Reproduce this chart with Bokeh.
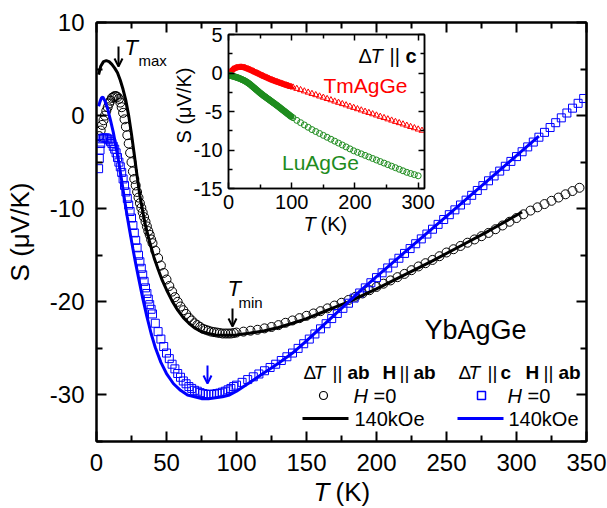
import math
from bokeh.plotting import figure
from bokeh.models import Range1d, LinearAxis, FixedTicker, Label, Arrow, OpenHead, CustomJSTickFormatter
from bokeh.layouts import column
from bokeh.embed import file_html
from bokeh.resources import INLINE

FONT = "Liberation Sans"

# ---------------- data: main panel (YbAgGe) ----------------
# dT || ab, H || ab, H = 0 (open circles)
T_ab0 = list(range(2, 41)) + list(range(42, 101, 2)) + list(range(105, 346, 5))
S_ab0 = [-2.2, -1.6, -1.0, -0.5, 0.0, 0.5, 0.9, 1.3, 1.6, 1.9, 2.0, 2.1, 2.1, 2.0, 1.8, 1.4, 0.9, 0.3, -0.4, -1.2,
         -2.1, -3.0, -4.0, -5.0, -6.0, -6.8, -7.5, -8.2, -8.8, -9.4, -9.9, -10.4, -10.9, -11.4, -11.9, -12.4, -12.8, -13.3, -13.7,
         -14.5, -15.3, -16.1, -16.9, -17.6, -18.3, -18.9, -19.5, -20.0, -20.5, -20.9, -21.3, -21.7, -22.0, -22.3,
         -22.5, -22.7, -22.9, -23.0, -23.1, -23.2, -23.25, -23.3, -23.35, -23.4, -23.4, -23.4, -23.4, -23.35, -23.3,
         -23.2, -23.1, -23.0, -22.85, -22.7, -22.5, -22.25, -22.0, -21.75, -21.5, -21.25, -21.0, -20.7, -20.4, -20.1,
         -19.8, -19.45, -19.1, -18.75, -18.4, -18.05, -17.7, -17.35, -17.0, -16.6, -16.2, -15.85, -15.5, -15.1, -14.7,
         -14.35, -14.0, -13.65, -13.3, -12.95, -12.6, -12.2, -11.8, -11.4, -11.0, -10.6, -10.2, -9.85, -9.5, -9.15,
         -8.8, -8.45, -8.1, -7.75]
# dT || ab, H || ab, 140 kOe (black line)
T_ab140 = [1.5, 3, 5, 7, 9, 11, 13, 15, 17, 19, 21, 23, 25, 27, 29, 31, 33, 35, 38, 41, 44, 47, 50, 54, 58, 62, 66,
           70, 75, 80, 85, 90, 95, 100, 110, 120, 130, 140, 150, 160, 170, 180, 190, 200, 220, 240, 260, 280, 300, 304]
S_ab140 = [4.4, 5.3, 5.8, 5.9, 5.8, 5.5, 5.1, 4.6, 3.8, 2.8, 1.6, 0.0, -2.0, -4.2, -6.5, -8.6, -10.3, -11.8, -13.6,
           -15.2, -16.5, -17.7, -18.7, -19.9, -20.9, -21.7, -22.3, -22.8, -23.2, -23.4, -23.55, -23.6, -23.6, -23.55,
           -23.35, -23.1, -22.75, -22.3, -21.8, -21.2, -20.6, -20.0, -19.3, -18.6, -17.1, -15.6, -14.0, -12.4, -10.7, -10.35]
# dT || c, H || ab, H = 0 (open squares)
T_c0 = [1.5, 2, 2.5] + list(range(3, 41)) + list(range(42, 101, 2)) + list(range(104, 349, 4))
S_c0 = [-5.7, -4.6, -3.7, -3.0, -2.5, -2.4, -2.4, -2.4, -2.5, -2.6, -2.8, -3.0, -3.3, -3.6, -4.0, -4.5, -5.0, -5.5,
        -6.1, -6.8, -7.5, -8.2, -8.9, -9.6, -10.3, -11.0, -11.8, -12.6, -13.4, -14.2, -15.0, -15.7, -16.4, -17.1,
        -17.8, -18.5, -19.1, -19.7, -20.3, -20.8, -21.3,
        -22.3, -23.2, -24.0, -24.8, -25.5, -26.1, -26.7, -27.2, -27.7, -28.1, -28.5, -28.8, -29.1, -29.3, -29.5,
        -29.6, -29.75, -29.85, -29.9, -29.95, -29.95, -29.9, -29.85, -29.8, -29.7, -29.6, -29.45, -29.3, -29.1, -28.95,
        -28.65, -28.35, -28.05, -27.75, -27.4, -27.05, -26.7, -26.3, -25.9, -25.5, -25.0, -24.5, -24.0, -23.45,
        -22.9, -22.35, -21.8, -21.25, -20.7, -20.15, -19.6, -19.05, -18.5, -17.95, -17.4, -16.88, -16.36, -15.84,
        -15.32, -14.8, -14.28, -13.76, -13.24, -12.72, -12.2, -11.68, -11.16, -10.64, -10.12, -9.6, -9.08, -8.56,
        -8.04, -7.52, -7.0, -6.48, -5.96, -5.44, -4.92, -4.4, -3.88, -3.36, -2.84, -2.32, -1.8, -1.28, -0.76,
        -0.24, 0.28, 0.8, 1.32, 1.84]
# dT || c, H || ab, 140 kOe (blue line)
T_c140 = [1.5, 2.5, 3.5, 4.5, 6, 8, 10, 12, 14, 16, 18, 20, 22, 24, 26, 28, 30, 33, 36, 39, 42, 46, 50, 55, 60, 65,
          70, 75, 80, 85, 90, 95, 100, 110, 120, 130, 140, 150, 160, 170, 180, 190, 200, 220, 240, 260, 280, 300, 316]
S_c140 = [1.0, 1.5, 1.9, 2.0, 1.6, 0.7, -0.5, -1.8, -3.4, -5.1, -7.0, -9.0, -10.9, -12.6, -14.3, -15.9, -17.4,
          -19.6, -21.6, -23.4, -24.9, -26.5, -27.7, -28.8, -29.5, -30.0, -30.2, -30.4, -30.4, -30.3, -30.2, -30.0,
          -29.6, -28.6, -27.6, -26.6, -25.5, -24.2, -22.8, -21.4, -20.0, -18.6, -17.3, -14.7, -12.1, -9.5, -6.9, -4.3, -2.2]

# ---------------- data: inset (dT || c) ----------------
T_tm_dense = list(range(1, 100, 2))
S_tm_dense = [0.05, 0.2, 0.35, 0.48, 0.57, 0.63, 0.68, 0.71, 0.73, 0.74, 0.74, 0.72, 0.69, 0.64, 0.58, 0.52, 0.45,
              0.38, 0.31, 0.23, 0.15, 0.07, 0.0, -0.08, -0.16, -0.24, -0.32, -0.4, -0.48, -0.55, -0.62, -0.7, -0.77,
              -0.84, -0.91, -0.98, -1.04, -1.1, -1.16, -1.22, -1.28, -1.34, -1.4, -1.46, -1.52, -1.57, -1.63, -1.68,
              -1.74, -1.79]
T_tm = list(range(102, 307, 6))
S_tm = [-1.86, -2.03, -2.19, -2.36, -2.52, -2.69, -2.85, -3.02, -3.18, -3.35, -3.51, -3.68, -3.84, -4.01, -4.17,
        -4.34, -4.5, -4.67, -4.83, -5.0, -5.16, -5.33, -5.49, -5.66, -5.82, -5.99, -6.15, -6.32, -6.48, -6.65,
        -6.81, -6.98, -7.14, -7.31, -7.47]
T_lu_dense = list(range(1, 100, 2))
S_lu_dense = [-0.3, -0.33, -0.37, -0.42, -0.47, -0.52, -0.57, -0.63, -0.69, -0.76, -0.83, -0.91, -0.99, -1.08,
              -1.18, -1.29, -1.41, -1.54, -1.68, -1.82, -1.96, -2.1, -2.24, -2.38, -2.52, -2.65, -2.78, -2.91,
              -3.03, -3.15, -3.27, -3.39, -3.51, -3.63, -3.75, -3.87, -3.99, -4.11, -4.23, -4.36, -4.49, -4.62,
              -4.75, -4.88, -5.0, -5.13, -5.26, -5.39, -5.52, -5.65]
T_lu = list(range(102, 301, 6))
S_lu = [-5.8, -6.15, -6.45, -6.75, -7.05, -7.35, -7.6, -7.85, -8.1, -8.35, -8.6, -8.85, -9.1, -9.35, -9.6, -9.85,
        -10.1, -10.3, -10.5, -10.7, -10.9, -11.1, -11.3, -11.5, -11.7, -11.9, -12.1, -12.3, -12.5, -12.7, -12.9,
        -13.05, -13.2, -13.35]

# ticks
x_ticks = [0, 50, 100, 150, 200, 250, 300, 350]
x_minor = [25, 75, 125, 175, 225, 275, 325]
y_ticks = [-30, -20, -10, 0, 10]
y_minor = [-35, -25, -15, -5, 5]
ix_ticks = [0, 100, 200, 300]
ix_minor = [50, 150, 250]
iy_ticks = [-15, -10, -5, 0, 5]
iy_minor = [-12.5, -7.5, -2.5, 2.5]

BLUE = "#0000FF"
RED = "#FF0000"
GREEN = "#1E8C1E"

# ---------------- layout (pixels) ----------------
W, H = 607, 508
FL, FR, FT, FB = 96, 586, 22, 441          # main frame
IL, IR, IT, IB = 228, 424, 34, 188         # inset frame
BL, BR = FL, W - FR                        # shared left/right borders (column aligns them)

HYPHEN = CustomJSTickFormatter(code="return tick.toString();")


def style_axis(ax, ticks, minor, size, tin, tmin, lw, standoff, labels=True):
    ax.ticker = FixedTicker(ticks=ticks, minor_ticks=minor)
    ax.major_tick_in = tin
    ax.major_tick_out = 0
    ax.minor_tick_in = tmin
    ax.minor_tick_out = 0
    ax.axis_line_width = lw
    ax.major_tick_line_width = lw
    ax.minor_tick_line_width = lw
    ax.axis_line_color = "black"
    ax.major_tick_line_color = "black"
    ax.minor_tick_line_color = "black"
    ax.major_label_text_font = FONT
    ax.formatter = HYPHEN
    if labels:
        ax.major_label_text_color = "black"
        ax.major_label_text_font_size = f"{size}px"
        ax.major_label_standoff = standoff
    else:
        ax.major_label_text_color = None
        ax.major_label_text_font_size = "1px"
        ax.major_label_standoff = 0


# ---------------- main figure ----------------
p = figure(width=W, height=H, x_range=Range1d(0, 350), y_range=Range1d(-35, 10),
           output_backend="svg", toolbar_location=None,
           min_border_left=BL, min_border_right=BR, min_border_top=FT, min_border_bottom=H - FB)
p.xgrid.visible = False
p.ygrid.visible = False
p.outline_line_color = "black"
p.outline_line_width = 2
p.background_fill_color = "white"
p.border_fill_color = "white"

style_axis(p.xaxis[0], x_ticks, x_minor, 24, 10, 6, 2, 12)
style_axis(p.yaxis[0], y_ticks, y_minor, 24, 10, 6, 2, 12)
p.yaxis[0].axis_label = "S (μV/K)"
p.yaxis[0].axis_label_text_font = FONT
p.yaxis[0].axis_label_text_font_size = "26px"
p.yaxis[0].axis_label_text_font_style = "normal"
p.yaxis[0].axis_label_text_color = "black"
p.yaxis[0].axis_label_standoff = 12
ra = LinearAxis()
style_axis(ra, y_ticks, y_minor, 0, 10, 6, 2, 0, labels=False)
p.add_layout(ra, "right")
ta = LinearAxis()
style_axis(ta, x_ticks, x_minor, 0, 10, 6, 2, 0, labels=False)
p.add_layout(ta, "above")

p.scatter(T_ab0, S_ab0, marker="circle", size=9, fill_color=None, line_color="black", line_width=1)
p.scatter(T_c0, S_c0, marker="square", size=8, fill_color=None, line_color=BLUE, line_width=1)
p.line(T_ab140, S_ab140, line_color="black", line_width=3)
p.line(T_c140, S_c140, line_color=BLUE, line_width=3)

# ---------------- inset figure (layer shifted right, same side borders) ----------------
q = figure(width=BL + (IR - IL) + BR, height=H, x_range=Range1d(0, 310), y_range=Range1d(-15, 5),
           output_backend="svg", toolbar_location=None,
           min_border_left=BL, min_border_right=BR, min_border_top=IT, min_border_bottom=H - IB)
q.xgrid.visible = False
q.ygrid.visible = False
q.outline_line_color = "black"
q.outline_line_width = 1.5
q.background_fill_color = "white"
q.border_fill_color = None
q.margin = (-H, 0, 0, IL - BL)

style_axis(q.xaxis[0], ix_ticks, ix_minor, 20, 6, 4, 1.5, 6)
style_axis(q.yaxis[0], iy_ticks, iy_minor, 20, 6, 4, 1.5, 6)
qra = LinearAxis()
style_axis(qra, iy_ticks, iy_minor, 0, 6, 4, 1.5, 0, labels=False)
q.add_layout(qra, "right")
qta = LinearAxis()
style_axis(qta, ix_ticks, ix_minor, 0, 6, 4, 1.5, 0, labels=False)
q.add_layout(qta, "above")

q.scatter(T_tm_dense, S_tm_dense, marker="triangle", size=6, fill_color=RED, line_color=RED, line_width=1)
q.scatter(T_tm, S_tm, marker="triangle", size=6, fill_color=None, line_color=RED, line_width=1)
q.scatter(T_lu_dense, S_lu_dense, marker="circle", size=6, fill_color=GREEN, line_color=GREEN, line_width=1)
q.scatter(T_lu, S_lu, marker="circle", size=6, fill_color=None, line_color=GREEN, line_width=1)

# ---------------- annotation layer (pixel coordinates over the main frame columns) ----------------
o = figure(width=W, height=H, x_range=Range1d(BL, W - BR), y_range=Range1d(H, 0), title=None,
           output_backend="svg", toolbar_location=None, x_axis_location=None, y_axis_location=None,
           min_border_left=BL, min_border_right=BR, min_border_top=0, min_border_bottom=0)
o.xgrid.visible = False
o.ygrid.visible = False
o.outline_line_color = None
o.background_fill_color = None
o.border_fill_color = None
o.margin = (-H, 0, 0, 0)


def lab(x, y, text, size, style="normal", color="black", align="left", angle=0.0):
    o.add_layout(Label(x=x, y=y, text=text, text_font=FONT, text_font_size=f"{size}px",
                       text_font_style=style, text_color=color, text_align=align,
                       text_baseline="middle", angle=angle))


def arrow(x, y0, y1, color):
    o.add_layout(Arrow(end=OpenHead(size=8, line_width=2, line_color=color), x_start=x, y_start=y0,
                       x_end=x, y_end=y1, line_width=2, line_color=color))


# axis titles
lab(313, 491, "T", 26, style="italic")
lab(335, 491, "(K)", 26)
lab(183, 105, "S (μV/K)", 20, align="center", angle=math.pi / 2)
lab(303, 223, "T", 20, style="italic")
lab(320, 223, "(K)", 20)

# main annotations
lab(475, 329, "YbAgGe", 27, align="center")
lab(124, 47, "T", 22, style="italic")
lab(138, 60, "max", 15)
arrow(118, 46, 66, "black")
lab(227, 288, "T", 22, style="italic")
lab(238, 302, "min", 15)
arrow(232, 308, 326, "black")
arrow(207, 365, 383, BLUE)

# legend
for (x, txt, st) in [(303, "Δ", "normal"), (313, "T", "italic"), (332, "||", "normal"), (347, "ab", "bold"),
                     (382, "H", "bold"), (399, "||", "normal"), (413, "ab", "bold"),
                     (458, "Δ", "normal"), (468, "T", "italic"), (487, "||", "normal"), (500, "c", "bold"),
                     (525, "H", "bold"), (543, "||", "normal"), (558, "ab", "bold")]:
    lab(x, 372, txt, 19, style=st)
o.scatter([323], [395], marker="circle", size=8, fill_color=None, line_color="black", line_width=1.2)
lab(353, 395, "H", 20, style="italic")
lab(373, 395, "=0", 20)
o.scatter([481], [395], marker="square", size=8, fill_color=None, line_color=BLUE, line_width=1.5)
lab(507, 395, "H", 20, style="italic")
lab(527, 395, "=0", 20)
o.line([302, 348], [418, 418], line_color="black", line_width=3)
lab(354, 418, "140kOe", 20)
o.line([457, 503], [418, 418], line_color=BLUE, line_width=3)
lab(508, 418, "140kOe", 20)

# inset annotations
for (x, txt, st) in [(358, "Δ", "normal"), (370, "T", "italic"), (389, "||", "normal"), (405, "c", "bold")]:
    lab(x, 55, txt, 20, style=st)
lab(365, 85, "TmAgGe", 21, color=RED, align="center")
lab(320, 162, "LuAgGe", 21, color=GREEN, align="center")

layout = column(p, q, o)
open("out.html", "w").write(file_html(layout, INLINE))
